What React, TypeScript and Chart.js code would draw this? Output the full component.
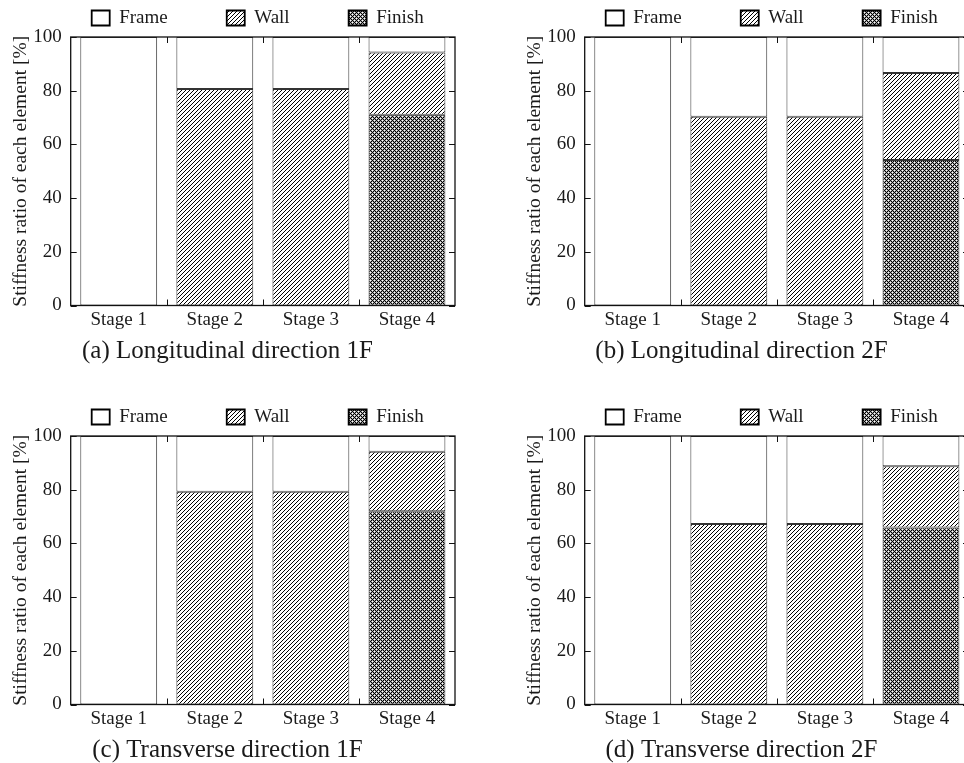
import React, { useEffect, useRef } from "react";
import { Chart, registerables } from "chart.js";

Chart.register(...registerables);

// ---------- data ----------
const stages = ["Stage 1", "Stage 2", "Stage 3", "Stage 4"];
const seriesNames = ["Frame", "Wall", "Finish"];
const yTickValues = [0, 20, 40, 60, 80, 100];

const captionA = "(a) Longitudinal direction 1F";
const frameA = [100, 19.4, 19.4, 5.8];
const wallA = [0, 80.6, 80.6, 23.2];
const finishA = [0, 0, 0, 71.0];

const captionB = "(b) Longitudinal direction 2F";
const frameB = [100, 29.7, 29.7, 13.4];
const wallB = [0, 70.3, 70.3, 32.4];
const finishB = [0, 0, 0, 54.2];

const captionC = "(c) Transverse direction 1F";
const frameC = [100, 20.8, 20.8, 5.9];
const wallC = [0, 79.2, 79.2, 22.1];
const finishC = [0, 0, 0, 72.0];

const captionD = "(d) Transverse direction 2F";
const frameD = [100, 32.8, 32.8, 11.3];
const wallD = [0, 67.2, 67.2, 22.8];
const finishD = [0, 0, 0, 65.9];

const yTitle = "Stiffness ratio of each element [%]";

// ---------- styling ----------
const FONT = "'Liberation Serif', 'Times New Roman', serif";
const TEXT = "#1a1a1a";
const CW = 464;
const CH = 366;

function makePattern(kind: "wall" | "finish"): CanvasPattern | string {
  const s = 4;
  const c = document.createElement("canvas");
  c.width = s;
  c.height = s;
  const g = c.getContext("2d");
  if (!g) return "#fff";
  g.fillStyle = "#fff";
  g.fillRect(0, 0, s, s);
  for (let x = 0; x < s; x++) {
    for (let y = 0; y < s; y++) {
      let col = "";
      if (kind === "wall") {
        if ((x + y) % s === s - 1) col = "#000";
      } else {
        const a = (x + y) % s;
        const b = (x - y + s) % s;
        if (a === 0 || b === 0) col = "#000";
        else if ((x + y) % 2 === 1) col = "#a8a8a8";
      }
      if (col) {
        g.fillStyle = col;
        g.fillRect(x, y, 1, 1);
      }
    }
  }
  const p = g.createPattern(c, "repeat");
  return p || "#fff";
}

const frameBoxPlugin = {
  id: "frameBox",
  afterDatasetsDraw(chart: any) {
    const { ctx, chartArea: a, scales } = chart;
    const xs = scales.x;
    const ys = scales.y;
    ctx.save();
    ctx.strokeStyle = "#111";
    ctx.lineWidth = 1.3;
    ctx.strokeRect(a.left, a.top, a.right - a.left, a.bottom - a.top);
    ctx.lineWidth = 1;
    ctx.beginPath();
    const tl = 6;
    ys.ticks.forEach((t: any) => {
      const y = Math.round(ys.getPixelForValue(t.value)) + 0.5;
      ctx.moveTo(a.left, y);
      ctx.lineTo(a.left + tl, y);
      ctx.moveTo(a.right, y);
      ctx.lineTo(a.right - tl, y);
    });
    const n = chart.data.labels.length;
    for (let i = 0; i < n - 1; i++) {
      const x = Math.round((xs.getPixelForValue(i) + xs.getPixelForValue(i + 1)) / 2) + 0.5;
      ctx.moveTo(x, a.bottom);
      ctx.lineTo(x, a.bottom - tl);
      ctx.moveTo(x, a.top);
      ctx.lineTo(x, a.top + tl);
    }
    ctx.stroke();
    ctx.restore();
  },
};

const legendPlacer = {
  id: "legendPlacer",
  afterLayout(chart: any) {
    const lg = chart.legend;
    if (!lg || !lg.lineWidths) return;
    const ca = chart.chartArea;
    const p = lg.options.labels.padding;
    const start = (lg.left + p + lg.right - lg.lineWidths[0]) / 2;
    const dx = ca.left + 21 - start;
    lg.left += dx;
    lg.right += dx;
    const rowTop = ca.top - 28.5;
    lg.top = rowTop - p;
    lg.bottom = ca.top;
    lg.height = lg.bottom - lg.top;
  },
};

type PanelProps = {
  left: number;
  top: number;
  caption: string;
  frame: number[];
  wall: number[];
  finish: number[];
};

function Panel({ left, top, caption, frame, wall, finish }: PanelProps) {
  const ref = useRef<HTMLCanvasElement>(null);
  useEffect(() => {
    if (!ref.current) return;
    const wallPat = makePattern("wall");
    const finishPat = makePattern("finish");
    const bw = (c: any) => (c.raw ? 1 : 0);
    const common = {
      borderColor: "#333",
      borderWidth: bw,
      borderSkipped: false,
      barPercentage: 0.8,
      categoryPercentage: 1,
    };
    const chart = new Chart(ref.current, {
      type: "bar",
      data: {
        labels: stages,
        datasets: [
          { label: seriesNames[2], data: finish, backgroundColor: finishPat, ...common },
          { label: seriesNames[1], data: wall, backgroundColor: wallPat, ...common },
          { label: seriesNames[0], data: frame, backgroundColor: "#ffffff", ...common },
        ],
      } as any,
      options: {
        responsive: false,
        animation: false,
        devicePixelRatio: 1,
        layout: { padding: { left: 0, right: CW - 455, top: 0, bottom: 0 } },
        plugins: {
          tooltip: { enabled: false },
          legend: {
            display: true,
            position: "top",
            fullSize: true,
            reverse: true,
            maxHeight: 37,
            labels: {
              boxWidth: 18,
              boxHeight: 15,
              padding: 59,
              color: TEXT,
              font: { family: FONT, size: 19 },
              generateLabels: (ch: any) =>
                Chart.defaults.plugins.legend.labels
                  .generateLabels(ch)
                  .map((it: any) => ({ ...it, lineWidth: 1.8, strokeStyle: "#000" })),
            },
          },
          title: {
            display: true,
            position: "bottom",
            text: caption,
            color: TEXT,
            font: { family: FONT, size: 25, weight: "normal" },
            padding: { top: 2, bottom: 0 },
          },
        },
        scales: {
          x: {
            stacked: true,
            grid: { display: false },
            border: { display: false },
            ticks: {
              color: TEXT,
              font: { family: FONT, size: 19 },
              padding: -5,
              maxRotation: 0,
            },
            afterFit: (s: any) => {
              s.height = 28.5;
            },
          },
          y: {
            stacked: true,
            min: 0,
            max: 100,
            grid: { display: false },
            border: { display: false },
            afterBuildTicks: (s: any) => {
              s.ticks = yTickValues.map((v) => ({ value: v }));
            },
            ticks: {
              color: TEXT,
              font: { family: FONT, size: 19 },
              padding: 1,
            },
            title: {
              display: true,
              text: yTitle,
              color: TEXT,
              font: { family: FONT, size: 19.5 },
              padding: { top: 9, bottom: 0 },
            },
            afterFit: (s: any) => {
              s.width = 70.7;
            },
          },
        },
      } as any,
      plugins: [frameBoxPlugin, legendPlacer],
    });
    return () => chart.destroy();
  }, [caption, frame, wall, finish]);
  return (
    <canvas
      ref={ref}
      width={CW}
      height={CH}
      style={{ position: "absolute", left, top, width: CW, height: CH }}
    />
  );
}

export default function App() {
  return (
    <div
      style={{
        position: "fixed",
        left: 0,
        top: 0,
        width: 964,
        height: 763,
        overflow: "hidden",
        background: "#fff",
      }}
    >
      <Panel left={0} top={0} caption={captionA} frame={frameA} wall={wallA} finish={finishA} />
      <Panel left={514} top={0} caption={captionB} frame={frameB} wall={wallB} finish={finishB} />
      <Panel left={0} top={399} caption={captionC} frame={frameC} wall={wallC} finish={finishC} />
      <Panel left={514} top={399} caption={captionD} frame={frameD} wall={wallD} finish={finishD} />
    </div>
  );
}
